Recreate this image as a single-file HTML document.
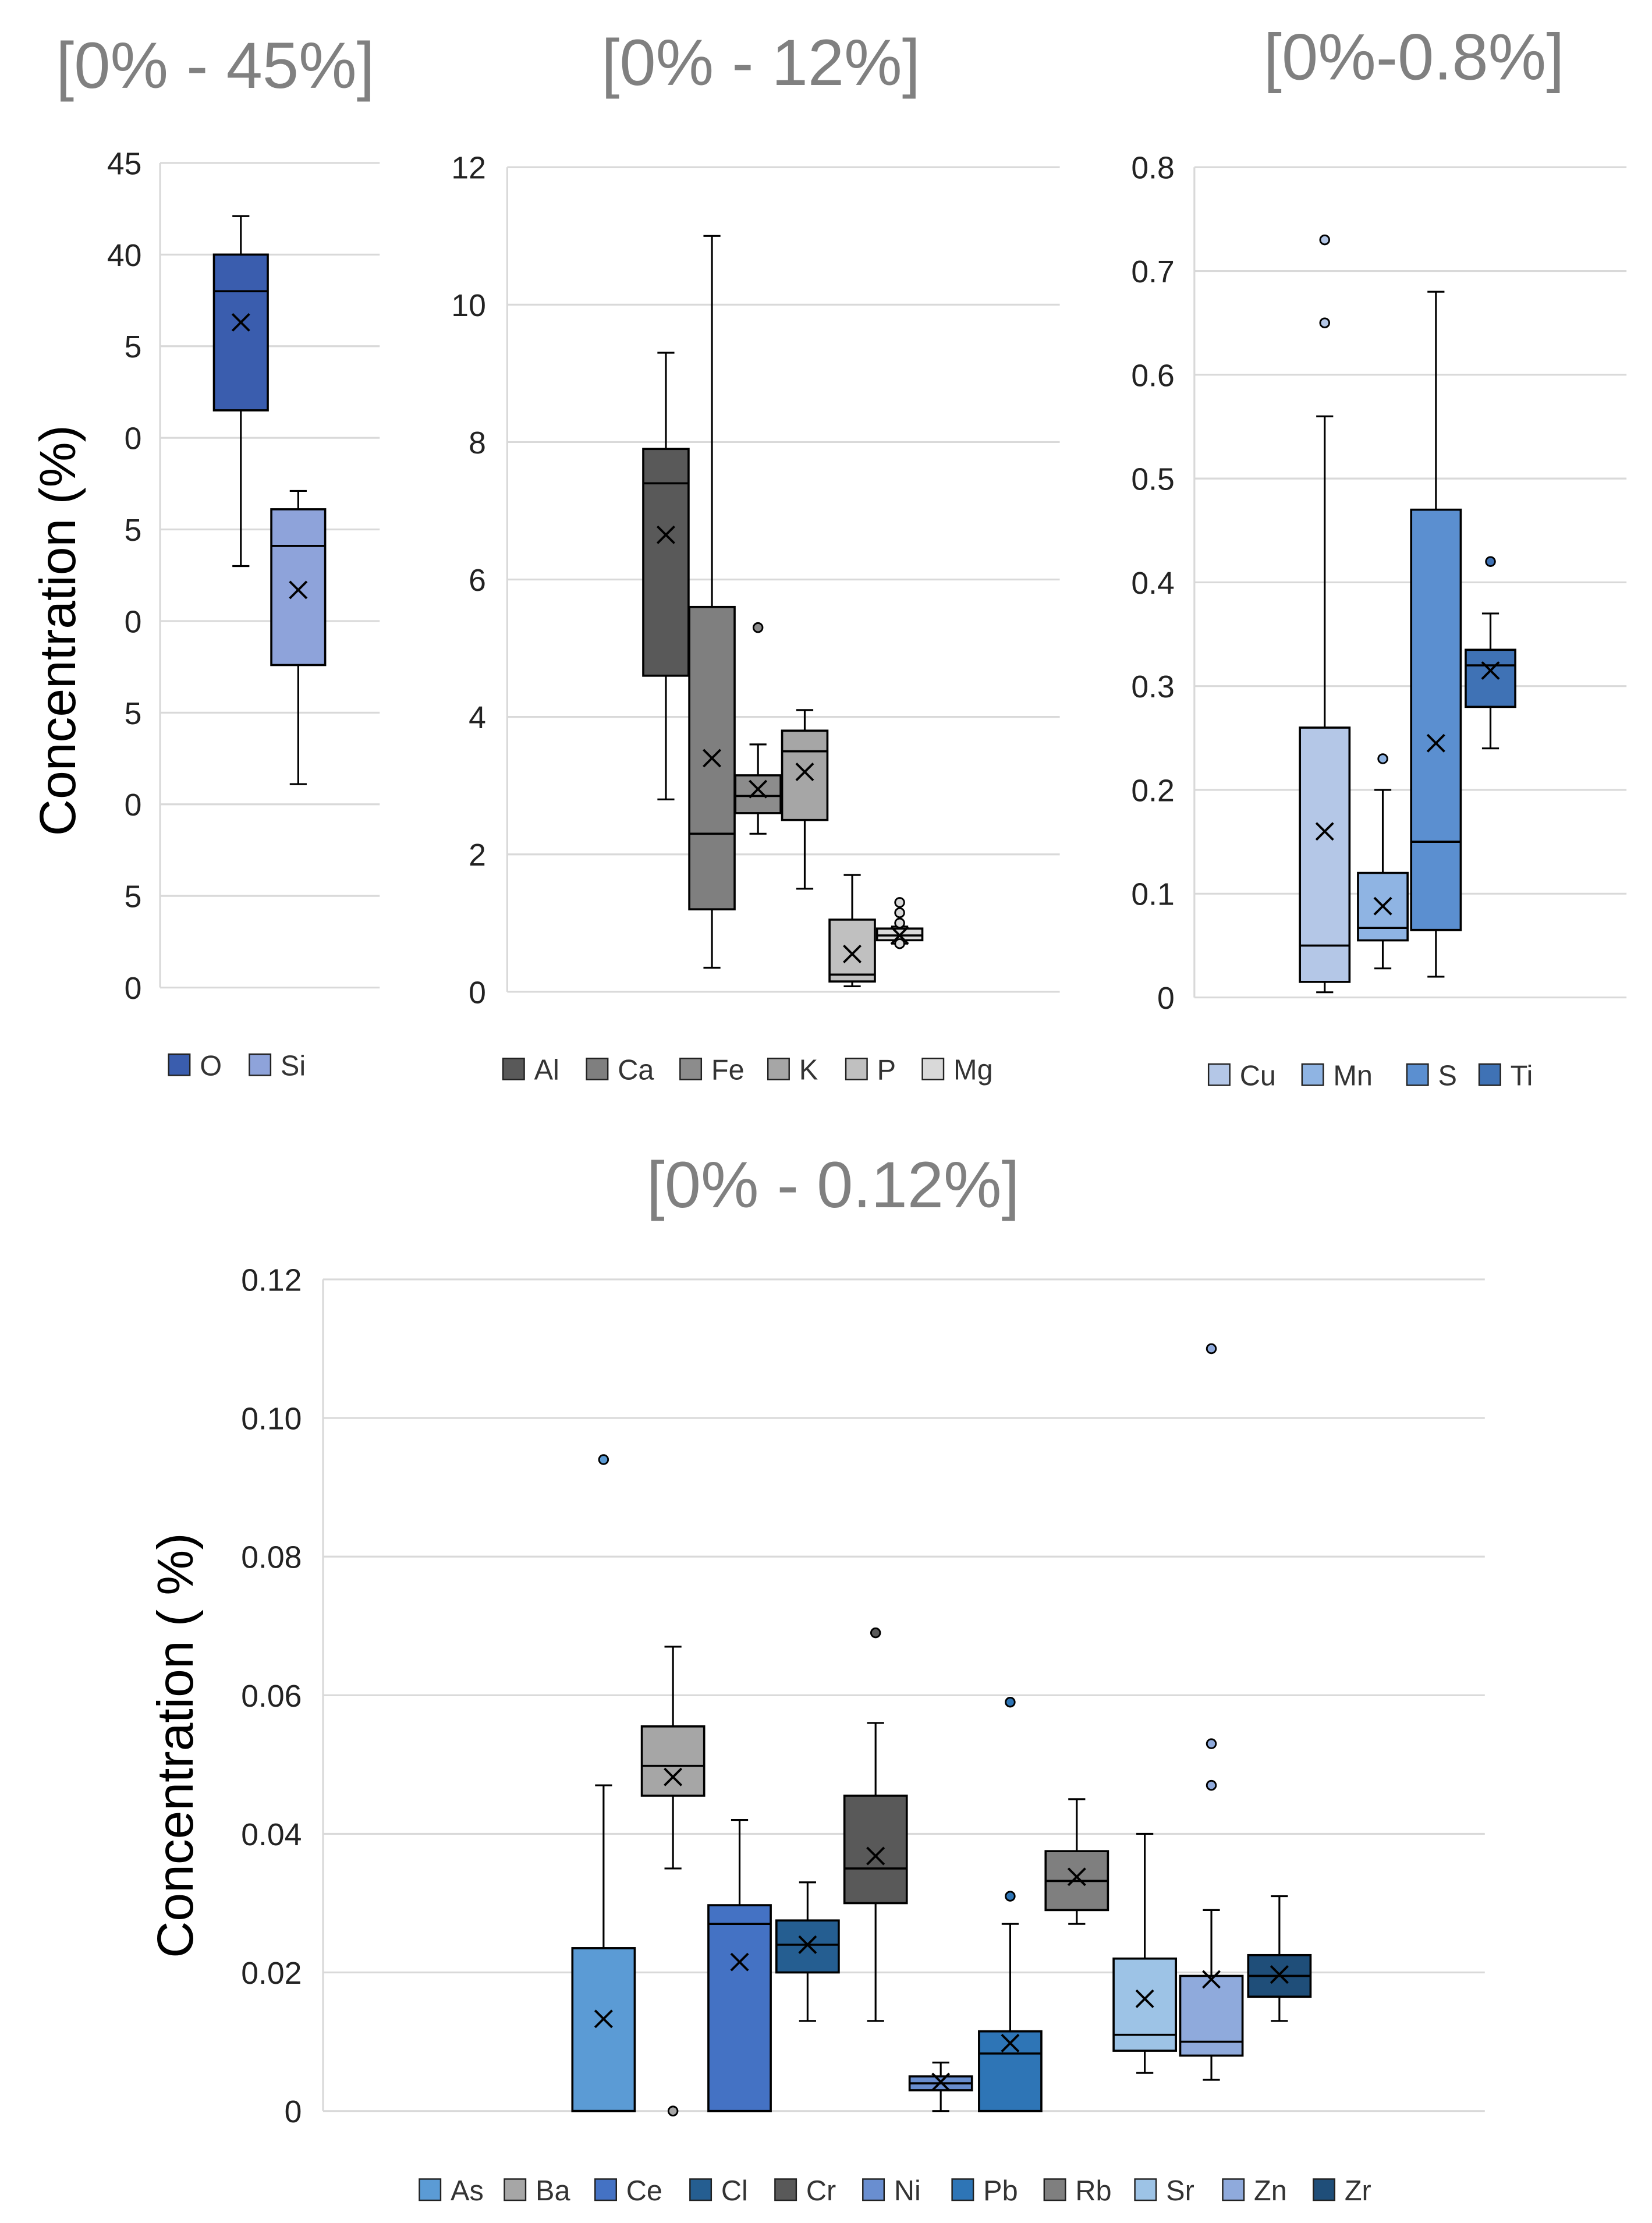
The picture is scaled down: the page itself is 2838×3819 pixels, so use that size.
<!DOCTYPE html>
<html><head><meta charset="utf-8"><style>
html,body{margin:0;padding:0;background:#fff}
svg{display:block}
text{font-family:"Liberation Sans",sans-serif}
</style></head><body>
<svg id="c" width="2838" height="3819" viewBox="0 0 1166 1569" xmlns="http://www.w3.org/2000/svg">
<text x="152" y="62" font-size="46" fill="#808080" text-anchor="middle">[0% - 45%]</text>
<text x="537" y="60" font-size="46" fill="#808080" text-anchor="middle">[0% - 12%]</text>
<text x="998" y="56" font-size="46" fill="#808080" text-anchor="middle">[0%-0.8%]</text>
<text x="588" y="852" font-size="46" fill="#808080" text-anchor="middle">[0% - 0.12%]</text>
<text transform="translate(53,445) rotate(-90)" font-size="36" fill="#000" text-anchor="middle">Concentration (%)</text>
<text transform="translate(136,1232) rotate(-90)" font-size="36" fill="#000" text-anchor="middle">Concentration ( %)</text>
</svg>
<script>
// Panel 1 data
const p1Cats=["O","Si"];
const p1Min=[23,11.1],p1Q1=[31.5,17.6],p1Med=[38,24.1],p1Q3=[40,26.1],p1Max=[42.1,27.1],p1Mean=[36.3,21.7];
const p1Out=[[],[]];
const p1Ticks=["0","5","0","5","0","5","0","5","40","45"];
// Panel 2 data
const p2Cats=["Al","Ca","Fe","K","P","Mg"];
const p2Min=[2.8,0.35,2.3,1.5,0.08,0.7],p2Q1=[4.6,1.2,2.6,2.5,0.15,0.75],p2Med=[7.4,2.3,2.85,3.5,0.25,0.82],p2Q3=[7.9,5.6,3.15,3.8,1.05,0.92],p2Max=[9.3,11,3.6,4.1,1.7,0.95],p2Mean=[6.65,3.4,2.95,3.2,0.55,0.82];
const p2Out=[[],[],[5.3],[],[],[1.3,1.15,1.0,0.7]];
const p2Ticks=["0","2","4","6","8","10","12"];
// Panel 3 data
const p3Cats=["Cu","Mn","S","Ti"];
const p3Min=[0.005,0.028,0.02,0.24],p3Q1=[0.015,0.055,0.065,0.28],p3Med=[0.05,0.067,0.15,0.32],p3Q3=[0.26,0.12,0.47,0.335],p3Max=[0.56,0.2,0.68,0.37],p3Mean=[0.16,0.088,0.245,0.315];
const p3Out=[[0.65,0.73],[0.23],[],[0.42]];
const p3Ticks=["0","0.1","0.2","0.3","0.4","0.5","0.6","0.7","0.8"];
// Panel 4 data
const p4Cats=["As","Ba","Ce","Cl","Cr","Ni","Pb","Rb","Sr","Zn","Zr"];
const p4Min=[0,0.035,0,0.013,0.013,0,0,0.027,0.0055,0.0045,0.013];
const p4Q1=[0,0.0455,0,0.02,0.03,0.003,0,0.029,0.0087,0.008,0.0165];
const p4Med=[0,0.0498,0.027,0.024,0.035,0.004,0.0083,0.0332,0.011,0.01,0.0195];
const p4Q3=[0.0235,0.0555,0.0297,0.0275,0.0455,0.005,0.0115,0.0375,0.022,0.0195,0.0225];
const p4Max=[0.047,0.067,0.042,0.033,0.056,0.007,0.027,0.045,0.04,0.029,0.031];
const p4Mean=[0.0133,0.0482,0.0215,0.024,0.0368,0.0042,0.0098,0.0338,0.0162,0.019,0.0197];
const p4Out=[[0.094],[0],[],[],[0.069],[],[0.031,0.059],[],[],[0.047,0.053,0.11],[]];
const p4Ticks=["0","0.02","0.04","0.06","0.08","0.10","0.12"];

const svg=document.getElementById('c');
const NS="http://www.w3.org/2000/svg";
function mk(tag,attrs,name,parent){const e=document.createElementNS(NS,tag);for(const k in attrs)e.setAttribute(k,attrs[k]);


(parent||svg).appendChild(e);return e;}

function panel(cfg,d){
  const g=mk('g',{},cfg.name);
  const y=v=>cfg.y0+(cfg.y1-cfg.y0)*(v-cfg.vmin)/(cfg.vmax-cfg.vmin);
  const n=d.ticks.length;
  for(let i=0;i<n;i++){const v=cfg.vmin+(cfg.vmax-cfg.vmin)*i/(n-1);const yy=y(v);
    mk('line',{x1:cfg.gx0,x2:cfg.gx1,y1:yy,y2:yy,stroke:'#d9d9d9','stroke-width':1.3},'gridline',g);
    const t=mk('text',{x:cfg.lx,y:yy+8,'font-size':22,'text-anchor':'end',fill:'#222'},'y-tick-label',g);t.textContent=d.ticks[i];}
  mk('line',{x1:cfg.gx0,x2:cfg.gx0,y1:cfg.y0,y2:cfg.y1,stroke:'#d9d9d9','stroke-width':1.3},'y-axis-line',g);
  d.cats.forEach((c,i)=>{
    const cx=cfg.cx[i],w=cfg.bw,col=cfg.col[i];
    const bg=mk('g',{},'box-'+c.toLowerCase(),g);
    mk('line',{x1:cx,x2:cx,y1:y(d.max[i]),y2:y(d.q3[i]),stroke:'#000','stroke-width':1.3},'whisker-upper',bg);
    mk('line',{x1:cx,x2:cx,y1:y(d.q1[i]),y2:y(d.min[i]),stroke:'#000','stroke-width':1.3},'whisker-lower',bg);
    mk('line',{x1:cx-6,x2:cx+6,y1:y(d.max[i]),y2:y(d.max[i]),stroke:'#000','stroke-width':1.3},'whisker-cap',bg);
    mk('line',{x1:cx-6,x2:cx+6,y1:y(d.min[i]),y2:y(d.min[i]),stroke:'#000','stroke-width':1.3},'whisker-cap',bg);
    mk('rect',{x:cx-w/2,y:y(d.q3[i]),width:w,height:Math.max(1,y(d.q1[i])-y(d.q3[i])),fill:col,stroke:'#000','stroke-width':1.5},'box-body',bg);
    mk('line',{x1:cx-w/2,x2:cx+w/2,y1:y(d.med[i]),y2:y(d.med[i]),stroke:'#000','stroke-width':1.5},'median-line',bg);
    const my=y(d.mean[i]);
    mk('path',{d:`M${cx-6},${my-6}L${cx+6},${my+6}M${cx+6},${my-6}L${cx-6},${my+6}`,stroke:'#000','stroke-width':1.6},'mean-marker',bg);
    d.out[i].forEach(o=>{mk('circle',{cx:cx,cy:y(o),r:3.2,fill:col,stroke:'#000','stroke-width':1.2},'outlier-point',bg);});
    const ly=cfg.ly,lx=cfg.legx[i];
    mk('rect',{x:lx,y:ly-8,width:15,height:15,fill:col,stroke:'#222','stroke-width':1},'legend-swatch-'+c.toLowerCase(),g);
    const t=mk('text',{x:lx+22,y:ly+7,'font-size':20,fill:'#333'},'legend-entry-'+c.toLowerCase(),g);t.textContent=c;
  });
}
panel({name:'panel-o-si',y0:697,y1:115,vmin:0,vmax:45,gx0:113,gx1:268,lx:100,bw:38,cx:[170,210.5],col:['#3a5dae','#8ea3da'],ly:752,legx:[119,176]},
 {cats:p1Cats,min:p1Min,q1:p1Q1,med:p1Med,q3:p1Q3,max:p1Max,mean:p1Mean,out:p1Out,ticks:p1Ticks});
panel({name:'panel-major',y0:700,y1:118,vmin:0,vmax:12,gx0:358,gx1:748,lx:343,bw:32,cx:[470,502.5,535,568,601.5,635],col:['#595959','#7f7f7f','#8c8c8c','#a6a6a6','#c0c0c0','#d9d9d9'],ly:755,legx:[355,414,480,542,597,651]},
 {cats:p2Cats,min:p2Min,q1:p2Q1,med:p2Med,q3:p2Q3,max:p2Max,mean:p2Mean,out:p2Out,ticks:p2Ticks});
panel({name:'panel-minor',y0:704,y1:118,vmin:0,vmax:0.8,gx0:843,gx1:1148,lx:829,bw:35,cx:[935,976,1013.5,1052],col:['#b4c7e7','#8fb4e3','#5b8fd0','#3f72b5'],ly:759,legx:[853,919,993,1044]},
 {cats:p3Cats,min:p3Min,q1:p3Q1,med:p3Med,q3:p3Q3,max:p3Max,mean:p3Mean,out:p3Out,ticks:p3Ticks});
panel({name:'panel-trace',y0:1490,y1:903,vmin:0,vmax:0.12,gx0:228,gx1:1048,lx:213,bw:44,cx:[426,475,522,570,618,664,713,760,808,855,903],col:['#5b9bd5','#a6a6a6','#4472c4','#255e91','#595959','#698ed0','#2e75b6','#7f7f7f','#9dc3e6','#8faadc','#1f4e79'],ly:1546,legx:[296,356,420,487,547,609,672,737,801,863,927]},
 {cats:p4Cats,min:p4Min,q1:p4Q1,med:p4Med,q3:p4Q3,max:p4Max,mean:p4Mean,out:p4Out,ticks:p4Ticks});
</script>
</body></html>
